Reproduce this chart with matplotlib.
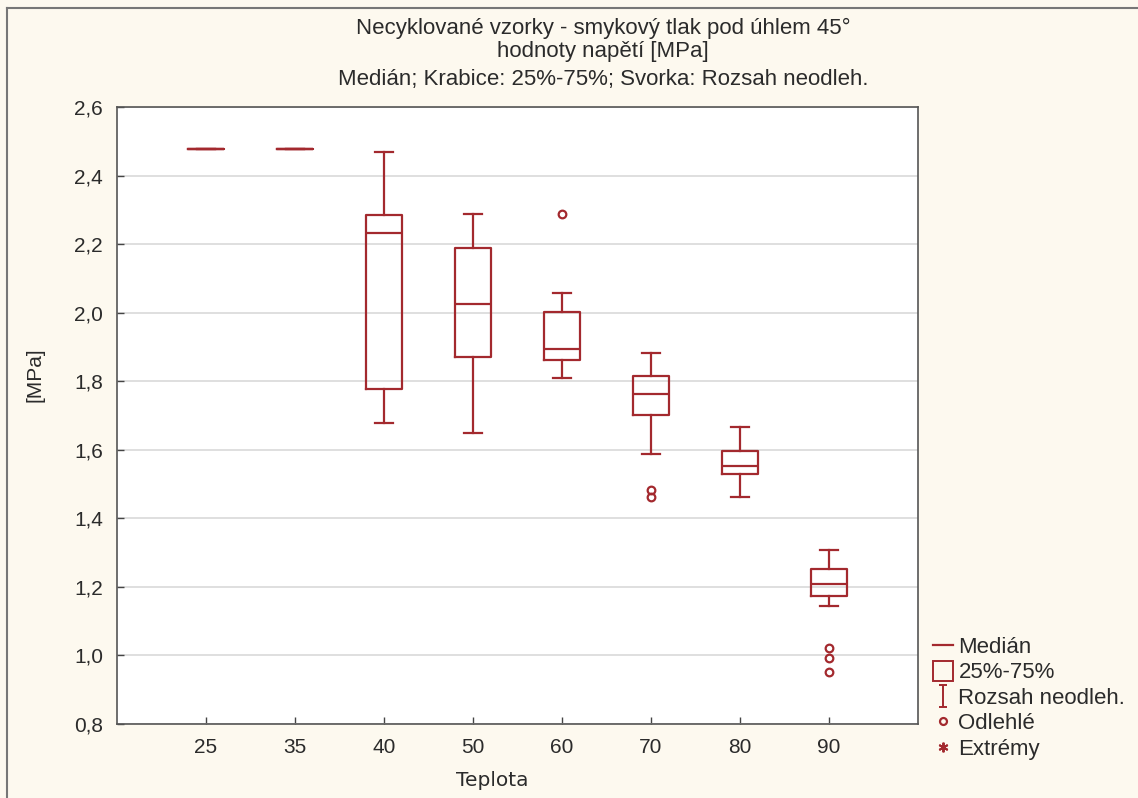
import numpy as np
import matplotlib.pyplot as plt
from matplotlib.lines import Line2D
from matplotlib.path import Path

# data
teplota = ["25", "35", "40", "50", "60", "70", "80", "90"]
whis_lo = [2.478, 2.478, 1.677, 1.649, 1.809, 1.587, 1.461, 1.144]
q1      = [2.478, 2.478, 1.778, 1.871, 1.863, 1.701, 1.529, 1.174]
median  = [2.478, 2.478, 2.233, 2.024, 1.893, 1.764, 1.552, 1.208]
q3      = [2.478, 2.478, 2.284, 2.189, 2.002, 1.815, 1.595, 1.252]
whis_hi = [2.478, 2.478, 2.468, 2.287, 2.056, 1.881, 1.667, 1.307]
outliers = [[], [], [], [], [2.289], [1.484, 1.463], [], [1.021, 0.992, 0.952]]

y_ticks = [0.8, 1.0, 1.2, 1.4, 1.6, 1.8, 2.0, 2.2, 2.4, 2.6]

RED = "#a3292e"
BG = "#fdf9ef"
TXT = "#2b2b2b"
FS = 15

plt.rcParams['font.family'] = ['Liberation Sans', 'DejaVu Sans']

fig = plt.figure(figsize=(11.38, 7.98), dpi=100, facecolor=BG)
ax = fig.add_axes([117 / 1138, 1 - 724 / 798, (918 - 117) / 1138, (724 - 107) / 798])
ax.set_facecolor("white")

stats = []
for i in range(len(teplota)):
    stats.append({
        "whislo": whis_lo[i], "q1": q1[i], "med": median[i],
        "q3": q3[i], "whishi": whis_hi[i], "fliers": outliers[i],
    })

pos = np.arange(1, len(teplota) + 1)
ax.bxp(stats, positions=pos, widths=0.41, showfliers=True,
       boxprops=dict(color=RED, linewidth=1.6),
       medianprops=dict(color=RED, linewidth=1.6),
       whiskerprops=dict(color=RED, linewidth=1.6),
       capprops=dict(color=RED, linewidth=1.6),
       capwidths=0.2,
       flierprops=dict(marker="o", markersize=5.5, markerfacecolor="none",
                       markeredgecolor=RED, markeredgewidth=1.6))

ax.set_xlim(0, 9)
ax.set_ylim(0.8, 2.6)
ax.set_xticks(pos)
ax.set_xticklabels(teplota)
ax.set_yticks(y_ticks)
ax.set_yticklabels([f"{v:.1f}".replace(".", ",") for v in y_ticks])
ax.yaxis.grid(True, color="#dcdcdc", linewidth=1.3)
ax.set_axisbelow(True)
ax.tick_params(direction="in", length=5, width=1, colors="#444444",
               labelsize=FS, labelcolor=TXT, pad=10)
for s in ax.spines.values():
    s.set_color("#555555")
    s.set_linewidth(1.2)

ax.set_ylabel("[MPa]", fontsize=FS, color=TXT)
ax.yaxis.set_label_coords(-72 / 801, 1 - (375 - 107) / 617)
ax.set_xlabel("Teplota", fontsize=14.5, color=TXT, family=["DejaVu Sans"])
ax.xaxis.set_label_coords((492 - 117) / 801, -(780 - 724) / 617)
ax.xaxis.label.set_va("center")

# titles
TFS = 16
fig.text(603 / 1138, 1 - 28 / 798, "Necyklované vzorky - smykový tlak pod úhlem 45°",
         ha="center", va="center", fontsize=TFS, color=TXT)
fig.text(603 / 1138, 1 - 51 / 798, "hodnoty napětí [MPa]",
         ha="center", va="center", fontsize=TFS, color=TXT)
fig.text(603 / 1138, 1 - 80 / 798, "Medián; Krabice: 25%-75%; Svorka: Rozsah neodleh.",
         ha="center", va="center", fontsize=TFS, color=TXT)

# legend
ibeam = Path([(-0.4, 1), (0.4, 1), (0, 1), (0, -1), (-0.4, -1), (0.4, -1)],
             [Path.MOVETO, Path.LINETO, Path.MOVETO, Path.LINETO, Path.MOVETO, Path.LINETO])
handles = [
    Line2D([], [], color=RED, linewidth=1.6),
    Line2D([], [], linestyle="none", marker="s", markersize=15,
           markerfacecolor="none", markeredgecolor=RED, markeredgewidth=1.4),
    Line2D([], [], linestyle="none", marker=ibeam, markersize=16,
           markerfacecolor="none", markeredgecolor=RED, markeredgewidth=1.4),
    Line2D([], [], linestyle="none", marker="o", markersize=5,
           markerfacecolor="none", markeredgecolor=RED, markeredgewidth=1.6),
    Line2D([], [], linestyle="none", marker=(6, 2, 0), markersize=7,
           markeredgecolor=RED, markeredgewidth=1.4),
]
labels = ["Medián", "25%-75%", "Rozsah neodleh.", "Odlehlé", "Extrémy"]
leg = fig.legend(handles, labels, loc="upper left",
                 bbox_to_anchor=(924 / 1138, 1 - 628 / 798),
                 frameon=False, fontsize=16, handlelength=0.9,
                 handletextpad=0.25, labelspacing=0.2, borderaxespad=0)
for t in leg.get_texts():
    t.set_color(TXT)

# outer frame lines (left and top)
fig.add_artist(Line2D([7 / 1138, 7 / 1138], [0, 1 - 8 / 798], color="#777777",
                      linewidth=1.5, transform=fig.transFigure))
fig.add_artist(Line2D([7 / 1138, 1], [1 - 8 / 798, 1 - 8 / 798], color="#777777",
                      linewidth=1.5, transform=fig.transFigure))

fig.savefig("out.png", dpi=100, facecolor=BG)
